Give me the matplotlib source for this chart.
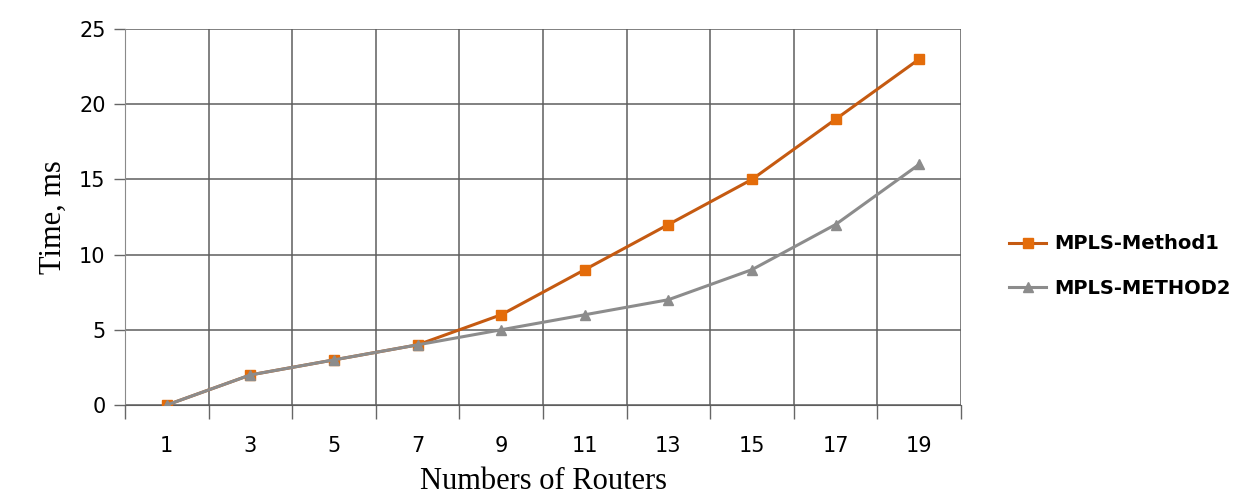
import numpy as np
import matplotlib
matplotlib.use('Agg')
import matplotlib.pyplot as plt

# Routing time vs. number of routers for the two MPLS methods
routers = ['1', '3', '5', '7', '9', '11', '13', '15', '17', '19']
method1 = [0, 2, 3, 4, 6, 9, 12, 15, 19, 23]
method2 = [0, 2, 3, 4, 5, 6, 7, 9, 12, 16]

fig = plt.figure(figsize=(12.54, 5.03), dpi=100)
ax = fig.add_axes([125 / 1254, 1 - 405 / 503, 836 / 1254, 376 / 503])

x = np.arange(len(routers))
ax.plot(x, method1, color='#C55A11', lw=2.2, marker='s', ms=7,
        mfc='#E46C0A', mec='#E46C0A', label='MPLS-Method1', zorder=3)
ax.plot(x, method2, color='#8C8C8C', lw=2.2, marker='^', ms=7,
        mfc='#8C8C8C', mec='#8C8C8C', label='MPLS-METHOD2', zorder=4)

ax.set_xlim(-0.5, len(routers) - 0.5)
ax.set_ylim(0, 25)
ax.set_yticks(np.arange(0, 26, 5))

# gridlines on category boundaries, labels at category centres
ax.set_xticks(np.arange(-0.5, len(routers), 1))
ax.set_xticklabels([])
ax.set_xticks(x, minor=True)
ax.set_xticklabels(routers, minor=True)
ax.tick_params(axis='x', which='major', length=10, width=1, color='#666666')
ax.tick_params(axis='x', which='minor', length=0, pad=22, labelsize=15)
ax.tick_params(axis='y', length=8, width=1, color='#666666', labelsize=15, pad=6)

ax.grid(True, which='major', color='#5E5E5E', lw=1.1)
ax.set_axisbelow(True)
for side in ['top', 'right']:
    ax.spines[side].set_visible(False)
ax.spines['left'].set_color('#8A8A8A')
ax.spines['bottom'].set_color('#5E5E5E')

ax.set_ylabel('Time, ms', family='Liberation Serif', fontsize=22, labelpad=8)
ax.set_xlabel('Numbers of Routers', family='Liberation Serif', fontsize=22, labelpad=8)

leg = fig.legend(loc='center left', bbox_to_anchor=(992 / 1254, 1 - 266 / 503),
                 frameon=False, fontsize=14, handlelength=1.9, labelspacing=1.3,
                 handletextpad=0.4)
for t in leg.get_texts():
    t.set_fontweight('semibold')

fig.savefig('out.png', dpi=100, facecolor='white')
